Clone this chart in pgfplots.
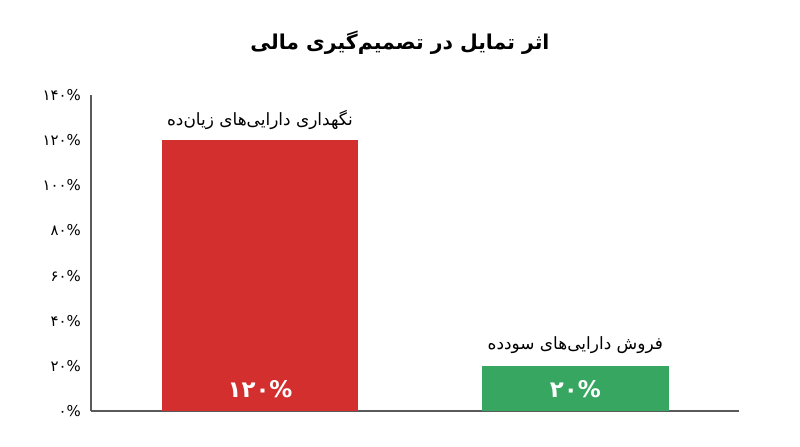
\documentclass[border=0pt]{standalone}
\usepackage{fontspec}
\usepackage{pgfplots}
\pgfplotsset{compat=1.18}
\TeXXeTstate=1
\newfontfamily\fa[Script=Arabic]{DejaVu Sans}
\definecolor{barred}{HTML}{D32F2F}
\definecolor{bargreen}{HTML}{36A660}
\definecolor{axgray}{HTML}{5A5A5A}

\begin{document}
\begin{tikzpicture}
\useasboundingbox (0,0) rectangle (800bp,447bp);
\node[font=\fa\bfseries\fontsize{20.5}{24}\selectfont, anchor=base] at (400bp,397bp) {\beginR اثر تمایل در تصمیم‌گیری مالی\endR};
\begin{axis}[
  at={(91bp,36bp)}, anchor=south west,
  scale only axis, width=648bp, height=316bp,
  xmin=-0.536, xmax=1.519, ymin=0, ymax=140,
  axis x line*=bottom, axis y line*=left,
  axis line style={axgray, line width=1.1bp},
  xtick=\empty,
  ytick={0,20,40,60,80,100,120,140},
  yticklabels={۰\%,۲۰\%,۴۰\%,۶۰\%,۸۰\%,۱۰۰\%,۱۲۰\%,۱۴۰\%},
  major tick length=0pt,
  y tick label style={font=\fa\fontsize{15}{15}\selectfont, inner sep=0pt, xshift=-10bp},
  clip=false,
]
\addplot[ybar, bar width=0.623, bar shift=0pt, fill=barred, draw=none] coordinates {(0,120)};
\addplot[ybar, bar width=0.594, bar shift=0pt, fill=bargreen, draw=none] coordinates {(1,20)};
\node[font=\fa\fontsize{17}{20}\selectfont, anchor=base] at (axis cs:0,120) [yshift=15bp] {\beginR نگهداری دارایی‌های زیان‌ده\endR};
\node[font=\fa\fontsize{17}{20}\selectfont, anchor=base] at (axis cs:1,20) [yshift=16bp] {\beginR فروش دارایی‌های سودده\endR};
\node[font=\fa\bfseries\fontsize{23}{27}\selectfont, text=white, anchor=base] at (axis cs:0,0) [yshift=14bp] {۱۲۰\%};
\node[font=\fa\bfseries\fontsize{23}{27}\selectfont, text=white, anchor=base] at (axis cs:1,0) [yshift=14bp] {۲۰\%};
\end{axis}
\end{tikzpicture}
\end{document}
